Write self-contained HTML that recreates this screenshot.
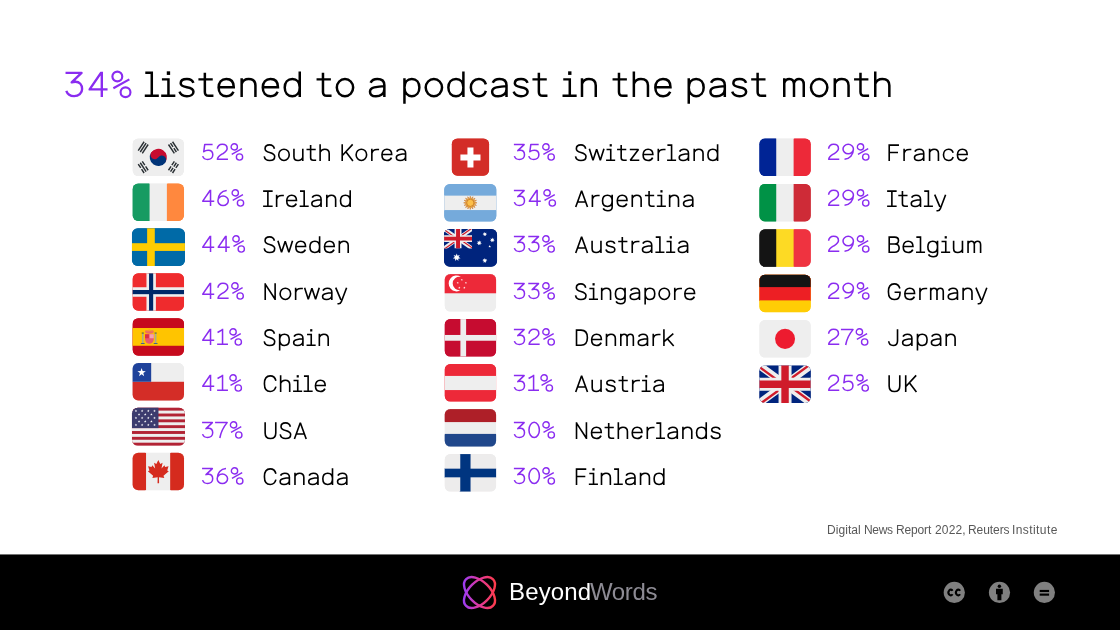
<!DOCTYPE html>
<html><head><meta charset="utf-8"><title>34% listened to a podcast in the past month</title>
<style>
html,body{margin:0;padding:0;background:#fff}
body{width:1120px;height:630px;position:relative;overflow:hidden;font-family:"Liberation Sans",sans-serif}
.t{position:absolute;white-space:nowrap;line-height:normal;transform-origin:0 50%;display:block;will-change:transform}
.s{font-family:"Liberation Sans",sans-serif}
.sr{position:absolute;margin:0;padding:0;font-weight:normal;line-height:1.1;white-space:nowrap;color:transparent;font-family:"Liberation Sans",sans-serif}
.logo{position:absolute;left:0;top:0}
</style></head><body>
<h1 class="sr" style="left:64px;top:62px;font-size:35px;width:840px">34% listened to a podcast in the past month</h1>
<div class="sr" style="left:201px;top:142px;font-size:23px"><span>52%</span> <span style="margin-left:18px">South Korea</span></div>
<div class="sr" style="left:201px;top:188px;font-size:23px"><span>46%</span> <span style="margin-left:18px">Ireland</span></div>
<div class="sr" style="left:201px;top:234px;font-size:23px"><span>44%</span> <span style="margin-left:18px">Sweden</span></div>
<div class="sr" style="left:201px;top:281px;font-size:23px"><span>42%</span> <span style="margin-left:18px">Norway</span></div>
<div class="sr" style="left:201px;top:327px;font-size:23px"><span>41%</span> <span style="margin-left:18px">Spain</span></div>
<div class="sr" style="left:201px;top:373px;font-size:23px"><span>41%</span> <span style="margin-left:18px">Chile</span></div>
<div class="sr" style="left:201px;top:420px;font-size:23px"><span>37%</span> <span style="margin-left:18px">USA</span></div>
<div class="sr" style="left:201px;top:466px;font-size:23px"><span>36%</span> <span style="margin-left:18px">Canada</span></div>
<div class="sr" style="left:513px;top:142px;font-size:23px"><span>35%</span> <span style="margin-left:18px">Switzerland</span></div>
<div class="sr" style="left:513px;top:188px;font-size:23px"><span>34%</span> <span style="margin-left:18px">Argentina</span></div>
<div class="sr" style="left:513px;top:234px;font-size:23px"><span>33%</span> <span style="margin-left:18px">Australia</span></div>
<div class="sr" style="left:513px;top:281px;font-size:23px"><span>33%</span> <span style="margin-left:18px">Singapore</span></div>
<div class="sr" style="left:513px;top:327px;font-size:23px"><span>32%</span> <span style="margin-left:18px">Denmark</span></div>
<div class="sr" style="left:513px;top:373px;font-size:23px"><span>31%</span> <span style="margin-left:18px">Austria</span></div>
<div class="sr" style="left:513px;top:420px;font-size:23px"><span>30%</span> <span style="margin-left:18px">Netherlands</span></div>
<div class="sr" style="left:513px;top:466px;font-size:23px"><span>30%</span> <span style="margin-left:18px">Finland</span></div>
<div class="sr" style="left:827px;top:142px;font-size:23px"><span>29%</span> <span style="margin-left:18px">France</span></div>
<div class="sr" style="left:827px;top:188px;font-size:23px"><span>29%</span> <span style="margin-left:18px">Italy</span></div>
<div class="sr" style="left:827px;top:234px;font-size:23px"><span>29%</span> <span style="margin-left:18px">Belgium</span></div>
<div class="sr" style="left:827px;top:281px;font-size:23px"><span>29%</span> <span style="margin-left:18px">Germany</span></div>
<div class="sr" style="left:827px;top:327px;font-size:23px"><span>27%</span> <span style="margin-left:18px">Japan</span></div>
<div class="sr" style="left:827px;top:373px;font-size:23px"><span>25%</span> <span style="margin-left:18px">UK</span></div>
<span class="t s " style="left:826.62px;top:523.14px;font-size:12px;letter-spacing:0.057px;color:#585858;">Digital</span>
<span class="t s " style="left:863.72px;top:523.14px;font-size:12px;letter-spacing:-0.329px;color:#585858;">News</span>
<span class="t s " style="left:895.82px;top:523.14px;font-size:12px;letter-spacing:-0.149px;color:#585858;">Report</span>
<span class="t s " style="left:934.80px;top:523.14px;font-size:12px;letter-spacing:0.163px;color:#585858;">2022,</span>
<span class="t s " style="left:967.92px;top:523.14px;font-size:12px;letter-spacing:-0.067px;color:#585858;">Reuters</span>
<span class="t s " style="left:1011.79px;top:523.14px;font-size:12px;letter-spacing:0.415px;color:#585858;">Institute</span>
<svg class="logo" width="1120" height="630" viewBox="0 0 1120 630">
<svg x="132.62" y="138.62" width="51.4" height="37.5" viewBox="0 0 36 26" preserveAspectRatio="none" overflow="visible"><clipPath id="c_kr"><rect width="36" height="26" rx="4" ry="4"/></clipPath><g clip-path="url(#c_kr)"><use href="#f_kr" transform="translate(18.0 13) scale(1.06 1.08) translate(-18.0 -13)"/><g id="f_kr"><rect width="36" height="26" fill="#EEE"/><g transform="rotate(33.7 18 13)"><path d="M12 13a6 6 0 0 1 12 0z" fill="#C60C30"/><path d="M12 13a6 6 0 0 0 12 0z" fill="#003478"/><circle cx="15" cy="13" r="3" fill="#C60C30"/><circle cx="21" cy="13" r="3" fill="#003478"/></g><g transform="translate(7.4 6.2) rotate(-56.3)" stroke="#292F33" stroke-width="1.0"><path d="M-3.7 -1.7H3.7"/><path d="M-3.7 0.0H3.7"/><path d="M-3.7 1.7H3.7"/></g><g transform="translate(28.6 6.2) rotate(56.3)" stroke="#292F33" stroke-width="1.0"><path d="M-3.7 -1.7H3.7"/><path d="M-3.7 0.0H-0.5M0.5 0.0H3.7"/><path d="M-3.7 1.7H3.7"/></g><g transform="translate(7.4 19.8) rotate(56.3)" stroke="#292F33" stroke-width="1.0"><path d="M-3.7 -1.7H-0.5M0.5 -1.7H3.7"/><path d="M-3.7 0.0H3.7"/><path d="M-3.7 1.7H-0.5M0.5 1.7H3.7"/></g><g transform="translate(28.6 19.8) rotate(-56.3)" stroke="#292F33" stroke-width="1.0"><path d="M-3.7 -1.7H-0.5M0.5 -1.7H3.7"/><path d="M-3.7 0.0H-0.5M0.5 0.0H3.7"/><path d="M-3.7 1.7H-0.5M0.5 1.7H3.7"/></g></g></g></svg>
<svg x="132.62" y="183.50" width="51.4" height="37.5" viewBox="0 0 36 26" preserveAspectRatio="none" overflow="visible"><clipPath id="c_ie"><rect width="36" height="26" rx="4" ry="4"/></clipPath><g clip-path="url(#c_ie)"><use href="#f_ie" transform="translate(18.0 13) scale(1.06 1.08) translate(-18.0 -13)"/><g id="f_ie"><rect width="12" height="26" fill="#169B62"/><rect x="12" width="12" height="26" fill="#EEE"/><rect x="24" width="12" height="26" fill="#FF883E"/></g></g></svg>
<svg x="131.97" y="228.18" width="53.0" height="37.9" viewBox="0 0 36 26" preserveAspectRatio="none" overflow="visible"><clipPath id="c_se"><rect width="36" height="26" rx="4" ry="4"/></clipPath><g clip-path="url(#c_se)"><use href="#f_se" transform="translate(18.0 13) scale(1.06 1.08) translate(-18.0 -13)"/><g id="f_se"><rect width="36" height="26" fill="#006AA7"/><rect x="10.3" width="5.2" height="26" fill="#FECC00"/><rect y="10.3" width="36" height="5.3" fill="#FECC00"/></g></g></svg>
<svg x="132.62" y="273.26" width="51.4" height="37.5" viewBox="0 0 36 26" preserveAspectRatio="none" overflow="visible"><clipPath id="c_no"><rect width="36" height="26" rx="4" ry="4"/></clipPath><g clip-path="url(#c_no)"><use href="#f_no" transform="translate(18.0 13) scale(1.06 1.08) translate(-18.0 -13)"/><g id="f_no"><rect width="36" height="26" fill="#EF2B2D"/><rect x="9.7" width="6.6" height="26" fill="#EEE"/><rect y="9.7" width="36" height="6.6" fill="#EEE"/><rect x="11.5" width="2.9" height="26" fill="#002868"/><rect y="11.6" width="36" height="2.9" fill="#002868"/></g></g></svg>
<svg x="132.62" y="318.14" width="51.4" height="37.5" viewBox="0 0 36 26" preserveAspectRatio="none" overflow="visible"><clipPath id="c_es"><rect width="36" height="26" rx="4" ry="4"/></clipPath><g clip-path="url(#c_es)"><use href="#f_es" transform="translate(18.0 13) scale(1.06 1.08) translate(-18.0 -13)"/><g id="f_es"><rect width="36" height="26" fill="#C60A1D"/><rect y="6.85" width="36" height="12.3" fill="#FFC400"/><rect x="6.55" y="10.4" width="1.1" height="7" fill="#A6AC90"/><rect x="15.55" y="10.4" width="1.1" height="7" fill="#A6AC90"/><rect x="6.35" y="9.9" width="1.5" height="0.9" fill="#6E7345"/><rect x="15.35" y="9.900" width="1.5" height="0.9" fill="#6E7345"/><rect x="5.65" y="17.2" width="2.9" height="0.7" rx="0.3" fill="#46648C"/><rect x="14.65" y="17.2" width="2.9" height="0.7" rx="0.3" fill="#46648C"/><path d="M8.7 11.2h6.100v3.500a3.050 3.050 0 0 1-6.100 0z" fill="#EA596E"/><path d="M11.900 11.2h2.900v2.700h-2.900z" fill="#F4A2B2"/><path d="M8.7 11.2h2.700v2.700H8.7z" fill="#DD2E44"/><ellipse cx="11.75" cy="9.45" rx="3.050" ry="1.350" fill="#EE6A62"/><path d="M8.9 9.050a3 1.200 0 0 1 5.700 0z" fill="#F4A030"/></g></g></svg>
<svg x="132.62" y="363.02" width="51.4" height="37.5" viewBox="0 0 36 26" preserveAspectRatio="none" overflow="visible"><clipPath id="c_cl"><rect width="36" height="26" rx="4" ry="4"/></clipPath><g clip-path="url(#c_cl)"><use href="#f_cl" transform="translate(18.0 13) scale(1.06 1.08) translate(-18.0 -13)"/><g id="f_cl"><rect width="36" height="26" fill="#EEE"/><rect y="13" width="36" height="13" fill="#D42D27"/><rect width="13" height="13" fill="#1F429B"/><polygon points="6.30,3.50 7.03,5.60 9.25,5.64 7.48,6.98 8.12,9.11 6.30,7.84 4.48,9.11 5.12,6.98 3.35,5.64 5.57,5.60" fill="#FFF"/></g></g></svg>
<svg x="131.97" y="407.70" width="53.0" height="37.9" viewBox="0 0 36 26" preserveAspectRatio="none" overflow="visible"><clipPath id="c_us"><rect width="36" height="26" rx="4" ry="4"/></clipPath><g clip-path="url(#c_us)"><use href="#f_us" transform="translate(18.0 13) scale(1.06 1.08) translate(-18.0 -13)"/><g id="f_us"><rect width="36" height="26" fill="#B22334"/><rect y="2.00" width="36" height="2" fill="#EEE"/><rect y="6.00" width="36" height="2" fill="#EEE"/><rect y="10.00" width="36" height="2" fill="#EEE"/><rect y="14.00" width="36" height="2" fill="#EEE"/><rect y="18.00" width="36" height="2" fill="#EEE"/><rect y="22.00" width="36" height="2" fill="#EEE"/><rect width="18" height="14" fill="#3C3B6E"/><polygon points="2.70,1.25 2.92,1.89 3.60,1.91 3.06,2.32 3.26,2.97 2.70,2.58 2.14,2.97 2.34,2.32 1.80,1.91 2.48,1.89" fill="#FFF"/><polygon points="6.90,1.25 7.12,1.89 7.80,1.91 7.26,2.32 7.46,2.97 6.90,2.58 6.34,2.97 6.54,2.32 6.00,1.91 6.68,1.89" fill="#FFF"/><polygon points="11.10,1.25 11.32,1.89 12.00,1.91 11.46,2.32 11.66,2.97 11.10,2.58 10.54,2.97 10.74,2.32 10.20,1.91 10.88,1.89" fill="#FFF"/><polygon points="15.30,1.25 15.52,1.89 16.20,1.91 15.66,2.32 15.86,2.97 15.30,2.58 14.74,2.97 14.94,2.32 14.40,1.91 15.08,1.89" fill="#FFF"/><polygon points="4.80,3.65 5.02,4.29 5.70,4.31 5.16,4.72 5.36,5.37 4.80,4.98 4.24,5.37 4.44,4.72 3.90,4.31 4.58,4.29" fill="#FFF"/><polygon points="9.00,3.65 9.22,4.29 9.90,4.31 9.36,4.72 9.56,5.37 9.00,4.98 8.44,5.37 8.64,4.72 8.10,4.31 8.78,4.29" fill="#FFF"/><polygon points="13.20,3.65 13.42,4.29 14.10,4.31 13.56,4.72 13.76,5.37 13.20,4.98 12.64,5.37 12.84,4.72 12.30,4.31 12.98,4.29" fill="#FFF"/><polygon points="2.70,6.05 2.92,6.69 3.60,6.71 3.06,7.12 3.26,7.77 2.70,7.38 2.14,7.77 2.34,7.12 1.80,6.71 2.48,6.69" fill="#FFF"/><polygon points="6.90,6.05 7.12,6.69 7.80,6.71 7.26,7.12 7.46,7.77 6.90,7.38 6.34,7.77 6.54,7.12 6.00,6.71 6.68,6.69" fill="#FFF"/><polygon points="11.10,6.05 11.32,6.69 12.00,6.71 11.46,7.12 11.66,7.77 11.10,7.38 10.54,7.77 10.74,7.12 10.20,6.71 10.88,6.69" fill="#FFF"/><polygon points="15.30,6.05 15.52,6.69 16.20,6.71 15.66,7.12 15.86,7.77 15.30,7.38 14.74,7.77 14.94,7.12 14.40,6.71 15.08,6.69" fill="#FFF"/><polygon points="4.80,8.45 5.02,9.09 5.70,9.11 5.16,9.52 5.36,10.17 4.80,9.78 4.24,10.17 4.44,9.52 3.90,9.11 4.58,9.09" fill="#FFF"/><polygon points="9.00,8.45 9.22,9.09 9.90,9.11 9.36,9.52 9.56,10.17 9.00,9.78 8.44,10.17 8.64,9.52 8.10,9.11 8.78,9.09" fill="#FFF"/><polygon points="13.20,8.45 13.42,9.09 14.10,9.11 13.56,9.52 13.76,10.17 13.20,9.78 12.64,10.17 12.84,9.52 12.30,9.11 12.98,9.09" fill="#FFF"/><polygon points="2.70,10.85 2.92,11.49 3.60,11.51 3.06,11.92 3.26,12.57 2.70,12.18 2.14,12.57 2.34,11.92 1.80,11.51 2.48,11.49" fill="#FFF"/><polygon points="6.90,10.85 7.12,11.49 7.80,11.51 7.26,11.92 7.46,12.57 6.90,12.18 6.34,12.57 6.54,11.92 6.00,11.51 6.68,11.49" fill="#FFF"/><polygon points="11.10,10.85 11.32,11.49 12.00,11.51 11.46,11.92 11.66,12.57 11.10,12.18 10.54,12.57 10.74,11.92 10.20,11.51 10.88,11.49" fill="#FFF"/><polygon points="15.30,10.85 15.52,11.49 16.20,11.51 15.66,11.92 15.86,12.57 15.30,12.18 14.74,12.57 14.94,11.92 14.40,11.51 15.08,11.49" fill="#FFF"/></g></g></svg>
<svg x="132.62" y="452.78" width="51.4" height="37.5" viewBox="0 0 36 26" preserveAspectRatio="none" overflow="visible"><clipPath id="c_ca"><rect width="36" height="26" rx="4" ry="4"/></clipPath><g clip-path="url(#c_ca)"><use href="#f_ca" transform="translate(18.0 13) scale(1.06 1.08) translate(-18.0 -13)"/><g id="f_ca"><rect width="36" height="26" fill="#EEE"/><rect width="9.4" height="26" fill="#D52B1E"/><rect x="26.3" width="9.7" height="26" fill="#D52B1E"/><path d="M18 4.4l1.5 2.9 1.7-.9-.8 4.3 2.2-2.4.5 1.3 2.6-.5-1 3.1 1.2.6-4 3.3.6 1.7-4-.6.1 4.4h-1.200l.1-4.4-4 .6.6-1.700-4-3.300 1.200-.6-1-3.100 2.600.5.5-1.300 2.200 2.400-.8-4.300 1.700.9z" fill="#D52B1E" transform="translate(18 13.6) scale(0.93) translate(-18 -13.6)"/></g></g></svg>
<svg x="451.80" y="138.55" width="37.3" height="37.25" viewBox="0 0 26 26" preserveAspectRatio="none" overflow="visible"><clipPath id="c_ch"><rect width="26" height="26" rx="4" ry="4"/></clipPath><g clip-path="url(#c_ch)"><use href="#f_ch" transform="translate(13.0 13) scale(1.06 1.08) translate(-13.0 -13)"/><g id="f_ch"><rect width="26" height="26" fill="#D32D27"/><path d="M10.9 6.2h4.2v4.900h4.900v4.200h-4.900v4.900h-4.200v-4.900H6v-4.200h4.900z" fill="#FFF"/></g></g></svg>
<svg x="444.20" y="184.10" width="52.2" height="37.5" viewBox="0 0 36 26" preserveAspectRatio="none" overflow="visible"><clipPath id="c_ar"><rect width="36" height="26" rx="4" ry="4"/></clipPath><g clip-path="url(#c_ar)"><use href="#f_ar" transform="translate(18.0 13) scale(1.06 1.08) translate(-18.0 -13)"/><g id="f_ar"><rect width="36" height="26" fill="#75AADB"/><rect y="8" width="36" height="10" fill="#EEE"/><polygon points="18.00,8.40 18.54,10.29 19.76,8.75 19.53,10.71 21.25,9.75 20.29,11.47 22.25,11.24 20.71,12.46 22.60,13.00 20.71,13.54 22.25,14.76 20.29,14.53 21.25,16.25 19.53,15.29 19.76,17.25 18.54,15.71 18.00,17.60 17.46,15.71 16.24,17.25 16.47,15.29 14.75,16.25 15.71,14.53 13.75,14.76 15.29,13.54 13.40,13.00 15.29,12.46 13.75,11.24 15.71,11.47 14.75,9.75 16.47,10.71 16.24,8.75 17.46,10.29" fill="#FCBF49" stroke="#C16A1F" stroke-width="0.35"/><circle cx="18" cy="13" r="2.5" fill="#FCBF49" stroke="#B8651D" stroke-width="0.45"/></g></g></svg>
<svg x="444.05" y="228.90" width="53.0" height="37.9" viewBox="0 0 36 26" preserveAspectRatio="none" overflow="visible"><clipPath id="c_au"><rect width="36" height="26" rx="4" ry="4"/></clipPath><g clip-path="url(#c_au)"><use href="#f_au" transform="translate(18.0 13) scale(1.06 1.08) translate(-18.0 -13)"/><g id="f_au"><rect width="36" height="26" fill="#00247D"/><clipPath id="auj"><rect width="19" height="13.4"/></clipPath><g clip-path="url(#auj)"><rect width="19" height="13.4" fill="#00247D"/><path d="M0 0L19 13.4M19 0L0 13.4" stroke="#EEE" stroke-width="2.68"/><path d="M-1.87 -0.81L9.26 7.04M20.39 -1.49L9.26 6.36M-1.39 14.89L9.74 7.04M20.87 14.21L9.74 6.36" stroke="#CF1B2B" stroke-width="0.83"/><path d="M9.5 0V13.4M0 6.7H19" stroke="#EEE" stroke-width="4.69"/><path d="M9.5 0V13.4M0 6.7H19" stroke="#CF1B2B" stroke-width="2.68"/></g><polygon points="8.60,16.90 9.16,18.43 10.71,17.92 9.86,19.31 11.23,20.20 9.61,20.41 9.77,22.03 8.60,20.90 7.43,22.03 7.59,20.41 5.97,20.20 7.34,19.31 6.49,17.92 8.04,18.43" fill="#FFF"/><polygon points="27.70,2.00 28.03,2.91 28.95,2.60 28.45,3.43 29.26,3.96 28.30,4.08 28.39,5.04 27.70,4.37 27.01,5.04 27.10,4.08 26.14,3.96 26.95,3.43 26.45,2.60 27.37,2.91" fill="#FFF"/><polygon points="32.80,5.90 33.15,6.86 34.13,6.54 33.60,7.42 34.46,7.98 33.44,8.11 33.54,9.13 32.80,8.42 32.06,9.13 32.16,8.11 31.14,7.98 32.00,7.42 31.47,6.54 32.45,6.86" fill="#FFF"/><polygon points="23.90,7.80 24.27,8.82 25.31,8.48 24.74,9.41 25.65,10.00 24.58,10.14 24.68,11.22 23.90,10.46 23.12,11.22 23.22,10.14 22.15,10.00 23.06,9.41 22.49,8.48 23.53,8.82" fill="#FFF"/><polygon points="27.70,19.90 28.07,20.92 29.11,20.58 28.54,21.51 29.45,22.10 28.38,22.24 28.48,23.32 27.70,22.56 26.92,23.32 27.02,22.24 25.95,22.10 26.86,21.51 26.29,20.58 27.33,20.92" fill="#FFF"/><polygon points="31.00,11.05 31.25,11.65 31.90,11.71 31.41,12.13 31.56,12.77 31.00,12.43 30.44,12.77 30.59,12.13 30.10,11.71 30.75,11.65" fill="#FFF"/></g></g></svg>
<svg x="444.70" y="274.10" width="51.4" height="37.5" viewBox="0 0 36 26" preserveAspectRatio="none" overflow="visible"><clipPath id="c_sg"><rect width="36" height="26" rx="4" ry="4"/></clipPath><g clip-path="url(#c_sg)"><use href="#f_sg" transform="translate(18.0 13) scale(1.06 1.08) translate(-18.0 -13)"/><g id="f_sg"><rect width="36" height="26" fill="#EEE"/><rect width="36" height="13.3" fill="#ED2939"/><path d="M11.34 1.92A5.5 5.5 0 1 0 11.34 11.08A4.7 4.7 0 1 1 11.34 1.92Z" fill="#FFF"/><polygon points="12.00,3.15 12.20,3.72 12.81,3.74 12.32,4.11 12.50,4.69 12.00,4.34 11.50,4.69 11.68,4.11 11.19,3.74 11.80,3.72" fill="#FFF"/><polygon points="14.85,5.22 15.05,5.80 15.66,5.81 15.18,6.18 15.35,6.76 14.85,6.41 14.35,6.76 14.53,6.18 14.04,5.81 14.65,5.80" fill="#FFF"/><polygon points="13.76,8.58 13.96,9.15 14.57,9.16 14.09,9.53 14.26,10.11 13.76,9.77 13.26,10.11 13.44,9.53 12.95,9.16 13.56,9.15" fill="#FFF"/><polygon points="10.24,8.58 10.44,9.15 11.05,9.16 10.56,9.53 10.74,10.11 10.24,9.77 9.74,10.11 9.91,9.53 9.43,9.16 10.04,9.15" fill="#FFF"/><polygon points="9.15,5.22 9.35,5.80 9.96,5.81 9.47,6.18 9.65,6.76 9.15,6.41 8.65,6.76 8.82,6.18 8.34,5.81 8.95,5.80" fill="#FFF"/></g></g></svg>
<svg x="444.70" y="319.10" width="51.4" height="37.5" viewBox="0 0 36 26" preserveAspectRatio="none" overflow="visible"><clipPath id="c_dk"><rect width="36" height="26" rx="4" ry="4"/></clipPath><g clip-path="url(#c_dk)"><use href="#f_dk" transform="translate(18.0 13) scale(1.06 1.08) translate(-18.0 -13)"/><g id="f_dk"><rect width="36" height="26" fill="#C60C30"/><rect x="11" width="4" height="26" fill="#EEE"/><rect y="11" width="36" height="4" fill="#EEE"/></g></g></svg>
<svg x="444.70" y="364.10" width="51.4" height="37.5" viewBox="0 0 36 26" preserveAspectRatio="none" overflow="visible"><clipPath id="c_at"><rect width="36" height="26" rx="4" ry="4"/></clipPath><g clip-path="url(#c_at)"><use href="#f_at" transform="translate(18.0 13) scale(1.06 1.08) translate(-18.0 -13)"/><g id="f_at"><rect width="36" height="26" fill="#ED2939"/><rect y="8.2" width="36" height="9.800" fill="#EEE"/></g></g></svg>
<svg x="444.70" y="409.10" width="51.4" height="37.5" viewBox="0 0 36 26" preserveAspectRatio="none" overflow="visible"><clipPath id="c_nl"><rect width="36" height="26" rx="4" ry="4"/></clipPath><g clip-path="url(#c_nl)"><use href="#f_nl" transform="translate(18.0 13) scale(1.06 1.08) translate(-18.0 -13)"/><g id="f_nl"><rect width="36" height="26" fill="#EEE"/><rect width="36" height="9" fill="#AE1F28"/><rect y="17.2" width="36" height="8.800" fill="#20478B"/></g></g></svg>
<svg x="444.70" y="454.10" width="51.4" height="37.5" viewBox="0 0 36 26" preserveAspectRatio="none" overflow="visible"><clipPath id="c_fi"><rect width="36" height="26" rx="4" ry="4"/></clipPath><g clip-path="url(#c_fi)"><use href="#f_fi" transform="translate(18.0 13) scale(1.06 1.08) translate(-18.0 -13)"/><g id="f_fi"><rect width="36" height="26" fill="#EDECEC"/><rect x="10.9" width="7.2" height="26" fill="#003580"/><rect y="10.100" width="36" height="6" fill="#003580"/></g></g></svg>
<svg x="759.35" y="138.50" width="51.4" height="37.5" viewBox="0 0 36 26" preserveAspectRatio="none" overflow="visible"><clipPath id="c_fr"><rect width="36" height="26" rx="4" ry="4"/></clipPath><g clip-path="url(#c_fr)"><use href="#f_fr" transform="translate(18.0 13) scale(1.06 1.08) translate(-18.0 -13)"/><g id="f_fr"><rect width="12" height="26" fill="#002495"/><rect x="12" width="12" height="26" fill="#EEE"/><rect x="24" width="12" height="26" fill="#ED2939"/></g></g></svg>
<svg x="759.35" y="183.90" width="51.4" height="37.5" viewBox="0 0 36 26" preserveAspectRatio="none" overflow="visible"><clipPath id="c_it"><rect width="36" height="26" rx="4" ry="4"/></clipPath><g clip-path="url(#c_it)"><use href="#f_it" transform="translate(18.0 13) scale(1.06 1.08) translate(-18.0 -13)"/><g id="f_it"><rect width="12" height="26" fill="#009246"/><rect x="12" width="12" height="26" fill="#EEE"/><rect x="24" width="12" height="26" fill="#CE2B37"/></g></g></svg>
<svg x="759.35" y="229.30" width="51.4" height="37.5" viewBox="0 0 36 26" preserveAspectRatio="none" overflow="visible"><clipPath id="c_be"><rect width="36" height="26" rx="4" ry="4"/></clipPath><g clip-path="url(#c_be)"><use href="#f_be" transform="translate(18.0 13) scale(1.06 1.08) translate(-18.0 -13)"/><g id="f_be"><rect width="12" height="26" fill="#141414"/><rect x="12" width="12" height="26" fill="#FDDA24"/><rect x="24" width="12" height="26" fill="#EF3340"/></g></g></svg>
<svg x="759.35" y="274.70" width="51.4" height="37.5" viewBox="0 0 36 26" preserveAspectRatio="none" overflow="visible"><clipPath id="c_de"><rect width="36" height="26" rx="4" ry="4"/></clipPath><g clip-path="url(#c_de)"><use href="#f_de" transform="translate(18.0 13) scale(1.06 1.08) translate(-18.0 -13)"/><g id="f_de"><rect width="36" height="26" fill="#FFCD05"/><rect width="36" height="17.800" fill="#ED1F24"/><rect width="36" height="8.6" fill="#141414"/></g></g></svg>
<svg x="759.35" y="320.10" width="51.4" height="37.5" viewBox="0 0 36 26" preserveAspectRatio="none" overflow="visible"><clipPath id="c_jp"><rect width="36" height="26" rx="4" ry="4"/></clipPath><g clip-path="url(#c_jp)"><use href="#f_jp" transform="translate(18.0 13) scale(1.06 1.08) translate(-18.0 -13)"/><g id="f_jp"><rect width="36" height="26" fill="#EEE"/><circle cx="18" cy="13" r="7" fill="#ED1B2F"/></g></g></svg>
<svg x="759.35" y="365.50" width="51.4" height="37.5" viewBox="0 0 36 26" preserveAspectRatio="none" overflow="visible"><clipPath id="c_gb"><rect width="36" height="26" rx="4" ry="4"/></clipPath><g clip-path="url(#c_gb)"><use href="#f_gb" transform="translate(18.0 13) scale(1.06 1.08) translate(-18.0 -13)"/><g id="f_gb"><clipPath id="gbj"><rect width="36" height="26"/></clipPath><g clip-path="url(#gbj)"><rect width="36" height="26" fill="#00247D"/><path d="M0 0L36 26M36 0L0 26" stroke="#EEE" stroke-width="5.20"/><path d="M-2.09 -0.52L17.53 13.65M37.15 -1.82L17.53 12.35M-1.15 27.82L18.47 13.65M38.09 26.52L18.47 12.35" stroke="#CF1B2B" stroke-width="1.61"/><path d="M18.0 0V26M0 13.0H36" stroke="#EEE" stroke-width="9.10"/><path d="M18.0 0V26M0 13.0H36" stroke="#CF1B2B" stroke-width="5.20"/></g></g></g></svg>
</svg>
<svg class="logo" width="1120" height="630" viewBox="0 0 1120 630"><defs><path id="g0" d="M36.5 3A31.75 47 0 0 1 36.5 97A31.75 47 0 0 1 36.5 3Z" stroke-width="9.3"/><path id="g1" d="M2.5 22.5L33 5M33 0V95M0 95.25H66" stroke-width="9.3"/><path id="g2" d="M5 31C5 14 18 3.2 35.5 3.2C53 3.2 65 14 65 29C65 43 54 51 40 60C22 71.500 6.500 80 5.500 95.250H70" stroke-width="9.3"/><path id="g3" d="M0.500 4.750H63L24.500 42C30 40 35 39.500 39 39.500C55 39.500 65.250 51 65.250 68C65.250 85 52 96.750 34 96.750C19 96.750 8 89 3.500 76" stroke-width="9.3"/><path id="g4" d="M77 70H7L52.500 2.500M54.500 0V100" stroke-width="9.3"/><path id="g5" d="M64 4.750H16L10 49C17 43 26 39.500 37 39.500C54 39.500 65.250 51 65.250 68C65.250 85 52 96.750 34 96.750C19 96.750 8 89 3.500 76" stroke-width="9.3"/><path id="g6" d="M58.500 4.500C28 6.500 4.750 30 4.750 67.750A31.750 29 0 1 0 68.250 67.750A31.750 29 0 1 0 4.750 67.750" stroke-width="9.3"/><path id="g7" d="M0 4.750H73.500C50 33 35.500 64 29 100" stroke-width="9.3"/><path id="g9" d="M68.250 32.250A31.750 29 0 1 0 4.750 32.250A31.750 29 0 1 0 68.250 32.250C68.250 70 45 93.500 14 95.500" stroke-width="9.3"/><path id="gp" d="M23.500 -0.500A19.250 19.250 0 1 1 23.500 38A19.250 19.250 0 1 1 23.500 -0.500ZM55.500 62A19.250 19.250 0 1 1 55.500 100.500A19.250 19.250 0 1 1 55.500 62ZM8 65.500L70.500 30" stroke-width="8.4"/></defs><g fill="none" stroke="#8a2cf0" stroke-linejoin="round"><use href="#g3" transform="translate(65.40 71.75) scale(0.2560 0.2525)"/><use href="#g4" transform="translate(87.85 71.75) scale(0.2560 0.2525)"/><use href="#gp" transform="translate(111.31 71.75) scale(0.2560 0.2525)"/><use href="#g5" transform="translate(202.10 143.85) scale(0.1640 0.1615)"/><use href="#g2" transform="translate(216.48 143.85) scale(0.1640 0.1615)"/><use href="#gp" transform="translate(230.41 143.85) scale(0.1640 0.1615)"/><use href="#g4" transform="translate(201.60 189.85) scale(0.1640 0.1615)"/><use href="#g6" transform="translate(217.13 189.85) scale(0.1640 0.1615)"/><use href="#gp" transform="translate(231.40 189.85) scale(0.1640 0.1615)"/><use href="#g4" transform="translate(201.60 235.85) scale(0.1640 0.1615)"/><use href="#g4" transform="translate(217.13 235.85) scale(0.1640 0.1615)"/><use href="#gp" transform="translate(232.16 235.85) scale(0.1640 0.1615)"/><use href="#g4" transform="translate(201.60 282.85) scale(0.1640 0.1615)"/><use href="#g2" transform="translate(217.13 282.85) scale(0.1640 0.1615)"/><use href="#gp" transform="translate(231.06 282.85) scale(0.1640 0.1615)"/><use href="#g4" transform="translate(201.60 328.85) scale(0.1640 0.1615)"/><use href="#g1" transform="translate(217.13 328.85) scale(0.1640 0.1615)"/><use href="#gp" transform="translate(229.20 328.85) scale(0.1640 0.1615)"/><use href="#g4" transform="translate(201.60 374.85) scale(0.1640 0.1615)"/><use href="#g1" transform="translate(217.13 374.85) scale(0.1640 0.1615)"/><use href="#gp" transform="translate(229.20 374.85) scale(0.1640 0.1615)"/><use href="#g3" transform="translate(202.00 421.85) scale(0.1640 0.1615)"/><use href="#g7" transform="translate(215.08 421.85) scale(0.1640 0.1615)"/><use href="#gp" transform="translate(229.70 421.85) scale(0.1640 0.1615)"/><use href="#g3" transform="translate(202.00 467.85) scale(0.1640 0.1615)"/><use href="#g6" transform="translate(216.38 467.85) scale(0.1640 0.1615)"/><use href="#gp" transform="translate(230.65 467.85) scale(0.1640 0.1615)"/><use href="#g3" transform="translate(513.80 143.85) scale(0.1640 0.1615)"/><use href="#g5" transform="translate(528.18 143.85) scale(0.1640 0.1615)"/><use href="#gp" transform="translate(542.06 143.85) scale(0.1640 0.1615)"/><use href="#g3" transform="translate(513.80 189.85) scale(0.1640 0.1615)"/><use href="#g4" transform="translate(528.18 189.85) scale(0.1640 0.1615)"/><use href="#gp" transform="translate(543.21 189.85) scale(0.1640 0.1615)"/><use href="#g3" transform="translate(513.80 235.85) scale(0.1640 0.1615)"/><use href="#g3" transform="translate(528.18 235.85) scale(0.1640 0.1615)"/><use href="#gp" transform="translate(542.06 235.85) scale(0.1640 0.1615)"/><use href="#g3" transform="translate(513.80 282.85) scale(0.1640 0.1615)"/><use href="#g3" transform="translate(528.18 282.85) scale(0.1640 0.1615)"/><use href="#gp" transform="translate(542.06 282.85) scale(0.1640 0.1615)"/><use href="#g3" transform="translate(513.80 328.85) scale(0.1640 0.1615)"/><use href="#g2" transform="translate(528.18 328.85) scale(0.1640 0.1615)"/><use href="#gp" transform="translate(542.11 328.85) scale(0.1640 0.1615)"/><use href="#g3" transform="translate(513.80 374.85) scale(0.1640 0.1615)"/><use href="#g1" transform="translate(528.18 374.85) scale(0.1640 0.1615)"/><use href="#gp" transform="translate(540.25 374.85) scale(0.1640 0.1615)"/><use href="#g3" transform="translate(513.80 421.85) scale(0.1640 0.1615)"/><use href="#g0" transform="translate(528.18 421.85) scale(0.1640 0.1615)"/><use href="#gp" transform="translate(542.20 421.85) scale(0.1640 0.1615)"/><use href="#g3" transform="translate(513.80 467.85) scale(0.1640 0.1615)"/><use href="#g0" transform="translate(528.18 467.85) scale(0.1640 0.1615)"/><use href="#gp" transform="translate(542.20 467.85) scale(0.1640 0.1615)"/><use href="#g2" transform="translate(827.80 143.85) scale(0.1640 0.1615)"/><use href="#g9" transform="translate(842.23 143.85) scale(0.1640 0.1615)"/><use href="#gp" transform="translate(856.65 143.85) scale(0.1640 0.1615)"/><use href="#g2" transform="translate(827.80 189.85) scale(0.1640 0.1615)"/><use href="#g9" transform="translate(842.23 189.85) scale(0.1640 0.1615)"/><use href="#gp" transform="translate(856.65 189.85) scale(0.1640 0.1615)"/><use href="#g2" transform="translate(827.80 235.85) scale(0.1640 0.1615)"/><use href="#g9" transform="translate(842.23 235.85) scale(0.1640 0.1615)"/><use href="#gp" transform="translate(856.65 235.85) scale(0.1640 0.1615)"/><use href="#g2" transform="translate(827.80 282.85) scale(0.1640 0.1615)"/><use href="#g9" transform="translate(842.23 282.85) scale(0.1640 0.1615)"/><use href="#gp" transform="translate(856.65 282.85) scale(0.1640 0.1615)"/><use href="#g2" transform="translate(827.80 328.85) scale(0.1640 0.1615)"/><use href="#g7" transform="translate(840.93 328.85) scale(0.1640 0.1615)"/><use href="#gp" transform="translate(855.55 328.85) scale(0.1640 0.1615)"/><use href="#g2" transform="translate(827.80 374.85) scale(0.1640 0.1615)"/><use href="#g5" transform="translate(842.23 374.85) scale(0.1640 0.1615)"/><use href="#gp" transform="translate(856.11 374.85) scale(0.1640 0.1615)"/></g><defs><path id="la" d="M49.7 -400C81 -468 145.7 -503 230.9 -503C353.4 -503 418.5 -440 418.5 -330V0M418.5 -305C363.2 -303 245.6 -292 147.6 -270C71.2 -253 33.5 -210 33.5 -150C33.5 -70 96.7 -22 191.7 -22C309.3 -22 418.5 -90 418.5 -215"/><path id="lc" d="M436 -352C410 -445 342.7 -503 249.4 -503C121.5 -503 33.5 -405 33.5 -262C33.5 -120 121.5 -22 249.4 -22C342.7 -22 410 -80 436 -172"/><path id="ld" d="M436.5 -709V0M436.5 -262C436.5 -118 358.3 -22 238.9 -22C115.6 -22 33.5 -118 33.5 -262C33.5 -407 115.6 -503 238.9 -503C358.3 -503 436.5 -407 436.5 -262"/><path id="le" d="M33.5 -273H440C440 -415 368.9 -503 239.4 -503C112.9 -503 33.5 -408 33.5 -262C33.5 -116 112.9 -22 242.4 -22C331.9 -22 398.1 -66 432.2 -146"/><path id="lg" d="M436.5 -525V5C436.5 110 370 160 255.4 160C161.2 160 93.2 128 61.2 62M436.5 -262C436.5 -118 358.3 -22 238.9 -22C115.6 -22 33.5 -118 33.5 -262C33.5 -407 115.6 -503 238.9 -503C358.3 -503 436.5 -407 436.5 -262"/><path id="lh" d="M33.5 -709V0M33.5 -370C61.5 -452 133.2 -503 224.5 -503C339.3 -503 411.5 -440 411.5 -320V0"/><path id="li" d="M20.2 -491.5H195.4V-33.5M0.5 -33.5H379.5"/><path id="lk" d="M33.5 -709V0M425 -525L40 -190M175 -305L440 0"/><path id="ll" d="M14.4 -675.5H188.5V-33.5M0.7 -33.5H377.3"/><path id="lm" d="M33.5 -525V0M33.5 -390C54.2 -460 102.2 -503 169.5 -503C253.2 -503 295 -450 295 -350V0M295 -390C315.7 -460 363.7 -503 431 -503C514.7 -503 556.5 -450 556.5 -350V0"/><path id="ln" d="M33.5 -525V0M33.5 -370C61.2 -452 129.4 -503 219.9 -503C331.9 -503 402.5 -440 402.5 -320V0"/><path id="lo" d="M252.5 -503A219 240.5 0 0 1 252.5 -22A219 240.5 0 0 1 252.5 -503Z"/><path id="lp" d="M33.5 -525V192M33.5 -262C33.5 -407 111.3 -503 230.6 -503C352.8 -503 433.5 -407 433.5 -262C433.5 -118 352.8 -22 230.6 -22C111.3 -22 33.5 -118 33.5 -262"/><path id="lr" d="M33.5 -525V0M33.5 -320C50 -430 130 -492 250 -492H335"/><path id="ls" d="M401.5 -395C379.4 -468 317.2 -503 229.2 -503C130.6 -503 60.8 -458 60.8 -385C60.8 -312 125.8 -292 226.3 -273C331.6 -253 403.4 -228 403.4 -150C403.4 -70 326.8 -22 226.3 -22C121.1 -22 54.1 -72 30.2 -150"/><path id="lt" d="M173.6 -678V-140C173.6 -66 208.3 -33.5 278.6 -33.5H403.8M1.2 -491.5H385.5"/><path id="lu" d="M33.5 -525V-195C33.5 -82 100 -22 205 -22C300 -22 375 -75 402.5 -160M402.5 -525V0"/><path id="lw" d="M33 -525L185 -32L337.5 -495L490 -32L642 -525"/><path id="ly" d="M33 -525L249.6 -5M487 -525L271.3 60C249.6 120 214.6 158 157.9 158H105.8"/><path id="lz" d="M25 -491.5H385L45 -33.5H420"/><path id="ua" d="M33 0L278.5 -690L524 0M111 -215H446"/><path id="ub" d="M33.5 0V-708M33.5 -674.5H260C365 -674.5 420 -625 420 -530C420 -435 360 -385 260 -385H33.5M260 -385C380 -385 446.5 -325 446.5 -210C446.5 -95 380 -33.5 260 -33.5H33.5"/><path id="uc" d="M512 -480C480 -610 395 -686 275 -686C125 -686 33.5 -555 33.5 -354C33.5 -153 125 -22 275 -22C395 -22 480 -98 512 -228"/><path id="ud" d="M33.5 -33.5V-674.5H220C390 -674.5 486.5 -555 486.5 -354C486.5 -153 390 -33.5 220 -33.5Z"/><path id="uf" d="M33.5 0V-674.5H440M33.5 -360H400"/><path id="ug" d="M510 -490C478 -615 395 -686 275 -686C125 -686 33.5 -555 33.5 -354C33.5 -153 125 -22 275 -22C420 -22 516.5 -120 516.5 -290V-330H290"/><path id="ui" d="M-1.1 -674.5H396.1M197.5 -674.5V-33.5M-1.1 -33.5H396.1"/><path id="uj" d="M396.5 -708V-210C396.5 -90 330 -22 215 -22C105 -22 40 -85 30 -200"/><path id="uk" d="M33.5 -708V0M470 -708L40 -230M185 -390L480 0"/><path id="un" d="M33.5 0V-708M446.5 0V-708M33.5 -675L446.5 -33"/><path id="us" d="M455 -520C430 -625 360 -686 255 -686C140 -686 65 -625 65 -525C65 -425 140 -395 255 -365C385 -330 466.5 -295 466.5 -195C466.5 -90 380 -22 255 -22C130 -22 50 -90 30 -200"/><path id="uu" d="M33.5 -708V-260C33.5 -105 115 -22 255 -22C395 -22 476.5 -105 476.5 -260V-708"/><path id="idot" d="M195.4 -717V-617" stroke-width="90"/></defs><g fill="none" stroke="#000" stroke-width="67" stroke-linejoin="miter" stroke-miterlimit="2"><use href="#ll" transform="translate(144.75 97.00) scale(0.0373 0.03580)"/><use href="#li" transform="translate(161.17 97.00) scale(0.0373 0.03580)"/><use href="#idot" transform="translate(161.17 97.00) scale(0.0373 0.03580)"/><use href="#ls" transform="translate(178.41 97.00) scale(0.0373 0.03580)"/><use href="#lt" transform="translate(198.37 97.00) scale(0.0373 0.03580)"/><use href="#le" transform="translate(217.36 97.00) scale(0.0373 0.03580)"/><use href="#ln" transform="translate(240.41 97.00) scale(0.0373 0.03580)"/><use href="#le" transform="translate(261.53 97.00) scale(0.0373 0.03580)"/><use href="#ld" transform="translate(283.47 97.00) scale(0.0373 0.03580)"/><use href="#lt" transform="translate(316.50 97.00) scale(0.0373 0.03580)"/><use href="#lo" transform="translate(335.56 97.00) scale(0.0373 0.03580)"/><use href="#la" transform="translate(368.75 97.00) scale(0.0373 0.03580)"/><use href="#lp" transform="translate(403.20 97.00) scale(0.0373 0.03580)"/><use href="#lo" transform="translate(424.45 97.00) scale(0.0373 0.03580)"/><use href="#ld" transform="translate(447.12 97.00) scale(0.0373 0.03580)"/><use href="#lc" transform="translate(469.61 97.00) scale(0.0373 0.03580)"/><use href="#la" transform="translate(490.90 97.00) scale(0.0373 0.03580)"/><use href="#ls" transform="translate(512.56 97.00) scale(0.0373 0.03580)"/><use href="#lt" transform="translate(532.39 97.00) scale(0.0373 0.03580)"/><use href="#li" transform="translate(562.50 97.00) scale(0.0373 0.03580)"/><use href="#idot" transform="translate(562.50 97.00) scale(0.0373 0.03580)"/><use href="#ln" transform="translate(580.74 97.00) scale(0.0373 0.03580)"/><use href="#lt" transform="translate(612.50 97.00) scale(0.0373 0.03580)"/><use href="#lh" transform="translate(632.61 97.00) scale(0.0373 0.03580)"/><use href="#le" transform="translate(654.07 97.00) scale(0.0373 0.03580)"/><use href="#lp" transform="translate(687.50 97.00) scale(0.0373 0.03580)"/><use href="#la" transform="translate(709.20 97.00) scale(0.0373 0.03580)"/><use href="#ls" transform="translate(731.09 97.00) scale(0.0373 0.03580)"/><use href="#lt" transform="translate(751.14 97.00) scale(0.0373 0.03580)"/><use href="#lm" transform="translate(783.00 97.00) scale(0.0373 0.03580)"/><use href="#lo" transform="translate(809.74 97.00) scale(0.0373 0.03580)"/><use href="#ln" transform="translate(833.54 97.00) scale(0.0373 0.03580)"/><use href="#lt" transform="translate(854.01 97.00) scale(0.0373 0.03580)"/><use href="#lh" transform="translate(874.00 97.00) scale(0.0373 0.03580)"/><use href="#us" transform="translate(263.50 161.00) scale(0.024 0.02350)"/><use href="#lo" transform="translate(277.92 161.00) scale(0.024 0.02350)"/><use href="#lu" transform="translate(293.14 161.00) scale(0.024 0.02350)"/><use href="#lt" transform="translate(306.46 161.00) scale(0.024 0.02350)"/><use href="#lh" transform="translate(319.32 161.00) scale(0.024 0.02350)"/><use href="#uk" transform="translate(341.40 161.00) scale(0.024 0.02350)"/><use href="#lo" transform="translate(355.31 161.00) scale(0.024 0.02350)"/><use href="#lr" transform="translate(371.04 161.00) scale(0.024 0.02350)"/><use href="#le" transform="translate(381.14 161.00) scale(0.024 0.02350)"/><use href="#la" transform="translate(395.55 161.00) scale(0.024 0.02350)"/><use href="#ui" transform="translate(263.14 207.00) scale(0.024 0.02350)"/><use href="#lr" transform="translate(275.82 207.00) scale(0.024 0.02350)"/><use href="#le" transform="translate(285.91 207.00) scale(0.024 0.02350)"/><use href="#ll" transform="translate(299.65 207.00) scale(0.024 0.02350)"/><use href="#la" transform="translate(311.04 207.00) scale(0.024 0.02350)"/><use href="#ln" transform="translate(325.98 207.00) scale(0.024 0.02350)"/><use href="#ld" transform="translate(339.72 207.00) scale(0.024 0.02350)"/><use href="#us" transform="translate(263.50 253.00) scale(0.024 0.02350)"/><use href="#lw" transform="translate(277.12 253.00) scale(0.024 0.02350)"/><use href="#le" transform="translate(295.00 253.00) scale(0.024 0.02350)"/><use href="#ld" transform="translate(309.13 253.00) scale(0.024 0.02350)"/><use href="#le" transform="translate(323.69 253.00) scale(0.024 0.02350)"/><use href="#ln" transform="translate(338.54 253.00) scale(0.024 0.02350)"/><use href="#un" transform="translate(264.41 300.00) scale(0.024 0.02350)"/><use href="#lo" transform="translate(279.30 300.00) scale(0.024 0.02350)"/><use href="#lr" transform="translate(294.83 300.00) scale(0.024 0.02350)"/><use href="#lw" transform="translate(303.83 300.00) scale(0.024 0.02350)"/><use href="#la" transform="translate(321.79 300.00) scale(0.024 0.02350)"/><use href="#ly" transform="translate(334.92 300.00) scale(0.024 0.02350)"/><use href="#us" transform="translate(263.50 346.00) scale(0.024 0.02350)"/><use href="#lp" transform="translate(278.85 346.00) scale(0.024 0.02350)"/><use href="#la" transform="translate(292.88 346.00) scale(0.024 0.02350)"/><use href="#li" transform="translate(306.55 346.00) scale(0.024 0.02350)"/><use href="#idot" transform="translate(306.55 346.00) scale(0.024 0.02350)"/><use href="#ln" transform="translate(318.54 346.00) scale(0.024 0.02350)"/><use href="#uc" transform="translate(263.62 392.00) scale(0.024 0.02350)"/><use href="#lh" transform="translate(279.83 392.00) scale(0.024 0.02350)"/><use href="#li" transform="translate(293.05 392.00) scale(0.024 0.02350)"/><use href="#idot" transform="translate(293.05 392.00) scale(0.024 0.02350)"/><use href="#ll" transform="translate(303.60 392.00) scale(0.024 0.02350)"/><use href="#le" transform="translate(314.62 392.00) scale(0.024 0.02350)"/><use href="#uu" transform="translate(264.34 439.00) scale(0.024 0.02350)"/><use href="#us" transform="translate(279.47 439.00) scale(0.024 0.02350)"/><use href="#ua" transform="translate(293.63 439.00) scale(0.024 0.02350)"/><use href="#uc" transform="translate(263.62 485.00) scale(0.024 0.02350)"/><use href="#la" transform="translate(279.35 485.00) scale(0.024 0.02350)"/><use href="#ln" transform="translate(294.17 485.00) scale(0.024 0.02350)"/><use href="#la" transform="translate(307.93 485.00) scale(0.024 0.02350)"/><use href="#ld" transform="translate(322.03 485.00) scale(0.024 0.02350)"/><use href="#la" transform="translate(336.75 485.00) scale(0.024 0.02350)"/><use href="#us" transform="translate(574.80 161.00) scale(0.024 0.02350)"/><use href="#lw" transform="translate(588.56 161.00) scale(0.024 0.02350)"/><use href="#li" transform="translate(606.05 161.00) scale(0.024 0.02350)"/><use href="#idot" transform="translate(606.05 161.00) scale(0.024 0.02350)"/><use href="#lt" transform="translate(617.01 161.00) scale(0.024 0.02350)"/><use href="#lz" transform="translate(629.21 161.00) scale(0.024 0.02350)"/><use href="#le" transform="translate(642.30 161.00) scale(0.024 0.02350)"/><use href="#lr" transform="translate(657.48 161.00) scale(0.024 0.02350)"/><use href="#ll" transform="translate(667.05 161.00) scale(0.024 0.02350)"/><use href="#la" transform="translate(678.44 161.00) scale(0.024 0.02350)"/><use href="#ln" transform="translate(693.38 161.00) scale(0.024 0.02350)"/><use href="#ld" transform="translate(707.12 161.00) scale(0.024 0.02350)"/><use href="#ua" transform="translate(574.92 207.00) scale(0.024 0.02350)"/><use href="#lr" transform="translate(591.60 207.00) scale(0.024 0.02350)"/><use href="#lg" transform="translate(601.72 207.00) scale(0.024 0.02350)"/><use href="#le" transform="translate(616.46 207.00) scale(0.024 0.02350)"/><use href="#ln" transform="translate(631.48 207.00) scale(0.024 0.02350)"/><use href="#lt" transform="translate(644.91 207.00) scale(0.024 0.02350)"/><use href="#li" transform="translate(656.79 207.00) scale(0.024 0.02350)"/><use href="#idot" transform="translate(656.79 207.00) scale(0.024 0.02350)"/><use href="#ln" transform="translate(668.83 207.00) scale(0.024 0.02350)"/><use href="#la" transform="translate(682.75 207.00) scale(0.024 0.02350)"/><use href="#ua" transform="translate(574.92 253.00) scale(0.024 0.02350)"/><use href="#lu" transform="translate(591.29 253.00) scale(0.024 0.02350)"/><use href="#ls" transform="translate(605.13 253.00) scale(0.024 0.02350)"/><use href="#lt" transform="translate(618.14 253.00) scale(0.024 0.02350)"/><use href="#lr" transform="translate(631.43 253.00) scale(0.024 0.02350)"/><use href="#la" transform="translate(641.68 253.00) scale(0.024 0.02350)"/><use href="#ll" transform="translate(655.38 253.00) scale(0.024 0.02350)"/><use href="#li" transform="translate(666.11 253.00) scale(0.024 0.02350)"/><use href="#idot" transform="translate(666.11 253.00) scale(0.024 0.02350)"/><use href="#la" transform="translate(677.55 253.00) scale(0.024 0.02350)"/><use href="#us" transform="translate(574.80 300.00) scale(0.024 0.02350)"/><use href="#li" transform="translate(588.90 300.00) scale(0.024 0.02350)"/><use href="#idot" transform="translate(588.90 300.00) scale(0.024 0.02350)"/><use href="#ln" transform="translate(600.89 300.00) scale(0.024 0.02350)"/><use href="#lg" transform="translate(614.61 300.00) scale(0.024 0.02350)"/><use href="#la" transform="translate(629.44 300.00) scale(0.024 0.02350)"/><use href="#lp" transform="translate(644.35 300.00) scale(0.024 0.02350)"/><use href="#lo" transform="translate(658.24 300.00) scale(0.024 0.02350)"/><use href="#lr" transform="translate(673.95 300.00) scale(0.024 0.02350)"/><use href="#le" transform="translate(684.02 300.00) scale(0.024 0.02350)"/><use href="#ud" transform="translate(575.71 346.00) scale(0.024 0.02350)"/><use href="#le" transform="translate(590.83 346.00) scale(0.024 0.02350)"/><use href="#ln" transform="translate(605.68 346.00) scale(0.024 0.02350)"/><use href="#lm" transform="translate(620.00 346.00) scale(0.024 0.02350)"/><use href="#la" transform="translate(637.45 346.00) scale(0.024 0.02350)"/><use href="#lr" transform="translate(652.44 346.00) scale(0.024 0.02350)"/><use href="#lk" transform="translate(663.12 346.00) scale(0.024 0.02350)"/><use href="#ua" transform="translate(574.92 392.00) scale(0.024 0.02350)"/><use href="#lu" transform="translate(591.40 392.00) scale(0.024 0.02350)"/><use href="#ls" transform="translate(605.37 392.00) scale(0.024 0.02350)"/><use href="#lt" transform="translate(618.49 392.00) scale(0.024 0.02350)"/><use href="#lr" transform="translate(631.90 392.00) scale(0.024 0.02350)"/><use href="#li" transform="translate(641.59 392.00) scale(0.024 0.02350)"/><use href="#idot" transform="translate(641.59 392.00) scale(0.024 0.02350)"/><use href="#la" transform="translate(653.15 392.00) scale(0.024 0.02350)"/><use href="#un" transform="translate(575.71 439.00) scale(0.024 0.02350)"/><use href="#le" transform="translate(590.70 439.00) scale(0.024 0.02350)"/><use href="#lt" transform="translate(604.54 439.00) scale(0.024 0.02350)"/><use href="#lh" transform="translate(617.54 439.00) scale(0.024 0.02350)"/><use href="#le" transform="translate(631.41 439.00) scale(0.024 0.02350)"/><use href="#lr" transform="translate(646.50 439.00) scale(0.024 0.02350)"/><use href="#ll" transform="translate(655.97 439.00) scale(0.024 0.02350)"/><use href="#la" transform="translate(667.26 439.00) scale(0.024 0.02350)"/><use href="#ln" transform="translate(682.11 439.00) scale(0.024 0.02350)"/><use href="#ld" transform="translate(695.76 439.00) scale(0.024 0.02350)"/><use href="#ls" transform="translate(710.32 439.00) scale(0.024 0.02350)"/><use href="#uf" transform="translate(575.71 485.00) scale(0.024 0.02350)"/><use href="#li" transform="translate(588.83 485.00) scale(0.024 0.02350)"/><use href="#idot" transform="translate(588.83 485.00) scale(0.024 0.02350)"/><use href="#ln" transform="translate(600.69 485.00) scale(0.024 0.02350)"/><use href="#ll" transform="translate(613.74 485.00) scale(0.024 0.02350)"/><use href="#la" transform="translate(624.96 485.00) scale(0.024 0.02350)"/><use href="#ln" transform="translate(639.74 485.00) scale(0.024 0.02350)"/><use href="#ld" transform="translate(653.32 485.00) scale(0.024 0.02350)"/><use href="#uf" transform="translate(888.41 161.00) scale(0.024 0.02350)"/><use href="#lr" transform="translate(903.29 161.00) scale(0.024 0.02350)"/><use href="#la" transform="translate(913.69 161.00) scale(0.024 0.02350)"/><use href="#ln" transform="translate(928.78 161.00) scale(0.024 0.02350)"/><use href="#lc" transform="translate(942.68 161.00) scale(0.024 0.02350)"/><use href="#le" transform="translate(956.62 161.00) scale(0.024 0.02350)"/><use href="#ui" transform="translate(887.14 207.00) scale(0.024 0.02350)"/><use href="#lt" transform="translate(898.27 207.00) scale(0.024 0.02350)"/><use href="#la" transform="translate(910.48 207.00) scale(0.024 0.02350)"/><use href="#ll" transform="translate(923.87 207.00) scale(0.024 0.02350)"/><use href="#ly" transform="translate(933.92 207.00) scale(0.024 0.02350)"/><use href="#ub" transform="translate(888.41 253.00) scale(0.024 0.02350)"/><use href="#le" transform="translate(902.41 253.00) scale(0.024 0.02350)"/><use href="#ll" transform="translate(915.98 253.00) scale(0.024 0.02350)"/><use href="#lg" transform="translate(927.06 253.00) scale(0.024 0.02350)"/><use href="#li" transform="translate(941.06 253.00) scale(0.024 0.02350)"/><use href="#idot" transform="translate(941.06 253.00) scale(0.024 0.02350)"/><use href="#lu" transform="translate(952.81 253.00) scale(0.024 0.02350)"/><use href="#lm" transform="translate(967.24 253.00) scale(0.024 0.02350)"/><use href="#ug" transform="translate(887.62 300.00) scale(0.024 0.02350)"/><use href="#le" transform="translate(904.02 300.00) scale(0.024 0.02350)"/><use href="#lr" transform="translate(919.15 300.00) scale(0.024 0.02350)"/><use href="#lm" transform="translate(929.91 300.00) scale(0.024 0.02350)"/><use href="#la" transform="translate(947.43 300.00) scale(0.024 0.02350)"/><use href="#ln" transform="translate(962.32 300.00) scale(0.024 0.02350)"/><use href="#ly" transform="translate(975.12 300.00) scale(0.024 0.02350)"/><use href="#uj" transform="translate(888.00 346.00) scale(0.024 0.02350)"/><use href="#la" transform="translate(901.84 346.00) scale(0.024 0.02350)"/><use href="#lp" transform="translate(916.67 346.00) scale(0.024 0.02350)"/><use href="#la" transform="translate(930.61 346.00) scale(0.024 0.02350)"/><use href="#ln" transform="translate(945.44 346.00) scale(0.024 0.02350)"/><use href="#uu" transform="translate(888.34 392.00) scale(0.024 0.02350)"/><use href="#uk" transform="translate(904.90 392.00) scale(0.024 0.02350)"/></g></svg>

<svg class="logo" width="1120" height="630" viewBox="0 0 1120 630" style="pointer-events:none">
<defs><linearGradient id="bwgrad" gradientUnits="userSpaceOnUse" x1="463" y1="592" x2="496" y2="592"><stop offset="0" stop-color="#9a3cf5"/><stop offset="0.5" stop-color="#e0389a"/><stop offset="1" stop-color="#ff3c48"/></linearGradient><filter id="blur" x="-5%" y="-20%" width="110%" height="140%"><feGaussianBlur stdDeviation="0.45"/></filter></defs>
<rect x="0" y="554.45" width="1120" height="75.55" fill="#000"/>
<g fill="none" stroke="url(#bwgrad)" stroke-width="2.4">
<path d="M466.14 579.14A18.9 10.5 45 1 0 492.86 605.86A18.9 10.5 45 1 0 466.14 579.14Z"/>
<path d="M466.14 605.86A18.9 10.5 -45 1 0 492.86 579.14A18.9 10.5 -45 1 0 466.14 605.86Z"/>
</g>
<g filter="url(#blur)">
<circle cx="954.3" cy="592.4" r="10.6" fill="#808080"/>
<circle cx="999.5" cy="592.4" r="10.6" fill="#808080"/>
<circle cx="1044.4" cy="592.4" r="10.6" fill="#808080"/>
<g fill="none" stroke="#000" stroke-width="2.1">
<path d="M952.6 590.7A2.300 2.900 0 1 0 952.600 594.300"/>
<path d="M960.1 590.7A2.300 2.900 0 1 0 960.100 594.300"/>
</g>
<circle cx="999.4" cy="586.2" r="1.75" fill="#000"/>
<path d="M996 588.7h6.800v5.600h-1.400v6h-4v-6h-1.400z" fill="#000"/>
<rect x="1039.700" y="589.900" width="9.4" height="2.150" fill="#000"/><rect x="1039.700" y="593.550" width="9.4" height="2.150" fill="#000"/>
</g>
</svg>
<span class="t s " style="left:509.03px;top:578.07px;font-size:24px;letter-spacing:0.143px;color:#fff;">Beyond</span><span class="t s " style="left:590.34px;top:578.07px;font-size:24px;letter-spacing:-0.379px;color:#8d8b94;">Words</span>
</body></html>
